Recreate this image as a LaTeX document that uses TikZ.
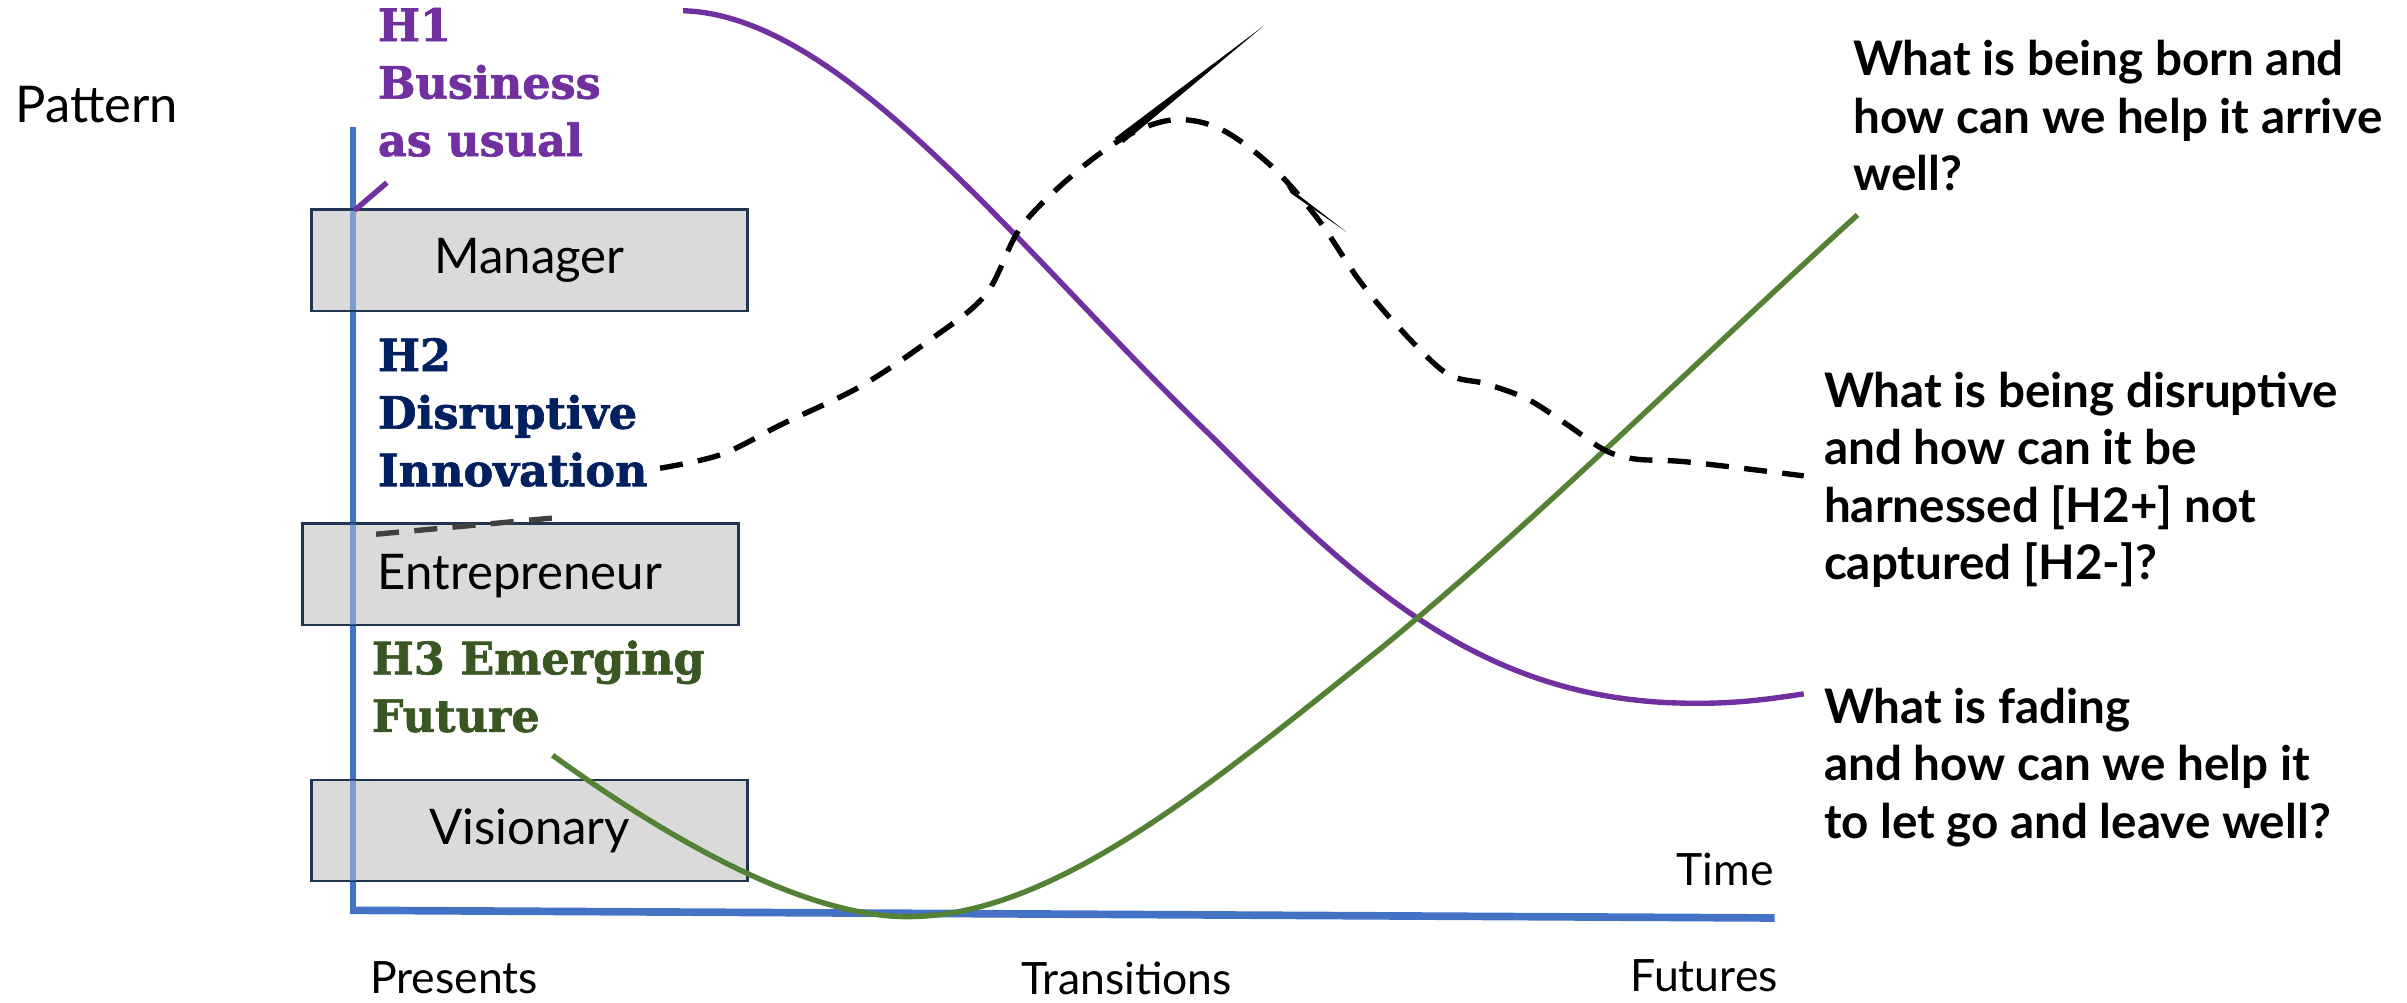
\documentclass[tikz,border=0pt]{standalone}
\usepackage{fontspec}
\setmainfont{Lato}
\newfontfamily\slab{DejaVu Serif}[FakeBold=1.5]
\definecolor{hpurple}{HTML}{7030A0}
\definecolor{hnavy}{HTML}{002060}
\definecolor{hgreentext}{HTML}{385723}
\definecolor{hgreen}{HTML}{548235}
\definecolor{axisblue}{HTML}{4472C4}
\definecolor{boxgray}{HTML}{DADADA}
\definecolor{boxline}{HTML}{1F3550}
\tikzset{
  box/.style={draw=boxline, line width=1.6pt, fill=boxgray,
    minimum width=284pt, minimum height=66pt, inner sep=0pt, font=\fontsize{32}{38}\selectfont},
  lbl/.style={font=\fontsize{29}{35}\selectfont, inner sep=0pt, anchor=base west},
  question/.style={font=\bfseries\fontsize{31}{37.5}\selectfont, align=left, anchor=north west, inner sep=0pt},
  horizon/.style={font=\slab\bfseries\fontsize{29}{37.5}\selectfont, align=left, anchor=north west, inner sep=0pt},
  axisline/.style={draw=axisblue, line cap=butt},
  curve/.style={line width=3.5pt},
  dashcurve/.style={line width=3.5pt, dash pattern=on 15pt off 10pt},
}
\begin{document}
\begin{tikzpicture}[x=1pt,y=-1pt]
\useasboundingbox (0,0) rectangle (1568,653);
% axes
\draw[axisline, line width=4.3pt] (230,83) -- (230,595);
\draw[axisline, line width=5pt] (228,593) -- (1156,598);
% boxes
\node[box] (manager) at (345,169.5) {Manager};
\node[box] (entre) at (339,374) {};
\node[lbl, anchor=west, font=\fontsize{32}{38}\selectfont] (entretext) at (246,375) {Entrepreneur};
\node[box] (vision) at (345,541) {Visionary};
% axis seen through the boxes
\draw[axisline, line width=4.3pt, draw opacity=0.6] (230,137) -- (230,202);
\draw[axisline, line width=4.3pt, draw opacity=0.6] (230,341) -- (230,407);
\draw[axisline, line width=4.3pt, draw opacity=0.6] (230,508) -- (230,574);
% axis labels
\node[lbl, font=\fontsize{33}{38}\selectfont] (pattern) at (10,80) {Pattern};
\node[lbl] (presents) at (241,647) {Presents};
\node[lbl] (transitions) at (665,648) {Transitions};
\node[lbl] (futures) at (1062,646) {Futures};
\node[lbl] (time) at (1092,577) {Time};
% horizons
\node[horizon, text=hpurple] (h1) at (246,5) {H1\\Business\\as usual};
\node[horizon, text=hnavy] (h2) at (246,220) {H2\\Disruptive\\Innovation};
\node[horizon, text=hgreentext] (h3) at (242,417) {H3 Emerging\\Future};
% questions
\node[question] (born) at (1207,26) {What is being born and\\how can we help it arrive\\well?};
\node[question] (disrupt) at (1188,242) {What is being disruptive\\and how can it be\\harnessed [H2+] not\\captured [H2-]?};
\node[question] (fading) at (1188,448) {What is fading\\and how can we help it\\to let go and leave well?};
% H1 curve (purple)
\draw[curve, hpurple] (445,7) .. controls (550,10) and (665,165) .. (790,285)
  .. controls (880,375) and (960,455) .. (1095,458)
  .. controls (1130,459) and (1155,455) .. (1175,452);
\draw[curve, hpurple] (231,137) -- (252,119);
% H3 curve (green)
\draw[curve, hgreen] (360,492) .. controls (440,550) and (530,600) .. (597,597)
  .. controls (690,594) and (790,510) .. (900,422)
  .. controls (1000,340) and (1100,240) .. (1210,140);
% H2 curve (black dashed)
\draw[dashcurve, black!75] (245,348) -- (365,337);
\draw[dashcurve] plot[smooth, tension=0.55] coordinates {
  (430,305) (470,296) (510,276) (560,252) (605,222) (642,192) (665,148) (700,113)
  (735,88) (765,78) (795,84) (828,108) (858,142) (885,182) (910,212) (942,243)
  (968,250) (995,260) (1020,276) (1045,293) (1065,299) (1100,301) (1175,310)};
% thin wedges
\fill (726,90) -- (823,17) -- (732,93) -- cycle;
\fill (838,121) -- (877,151) -- (841,126) -- cycle;
\end{tikzpicture}
\end{document}
